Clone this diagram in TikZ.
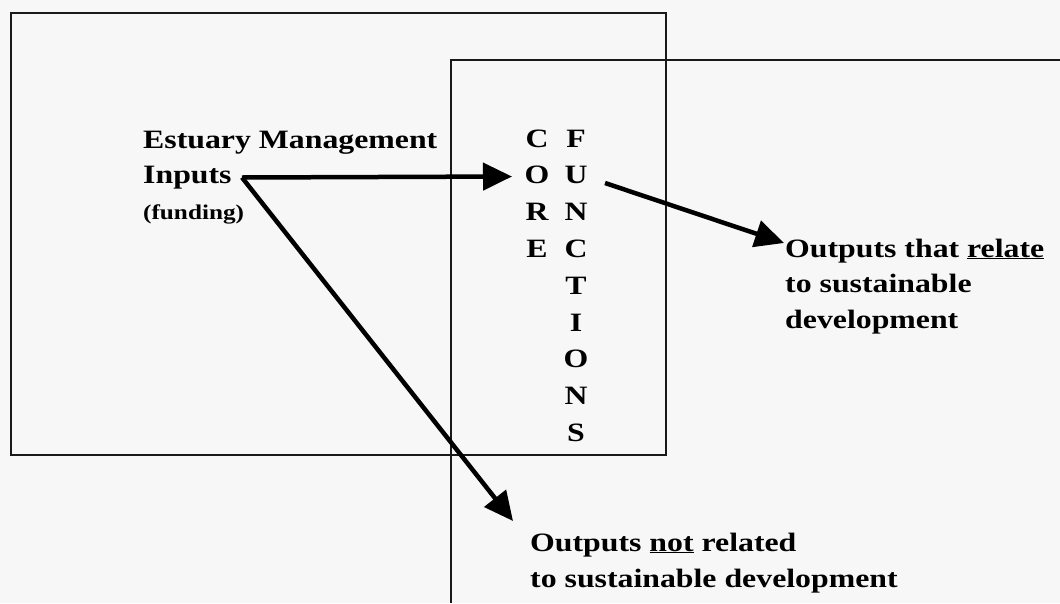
\documentclass[tikz,border=0pt]{standalone}
\usepackage{fontspec}
\setmainfont{Liberation Serif}[FakeStretch=1.2]
\usetikzlibrary{arrows.meta}
\tikzset{
  boxline/.style={draw=black!90, line width=1.3pt},
  bigarrow/.style={line width=4.5pt, -{Triangle[length=29pt,width=27pt]}},
  txt/.style={inner sep=0pt, anchor=base west, font=\bfseries\fontsize{26.5}{36}\selectfont},
  small/.style={inner sep=0pt, anchor=base west, font=\bfseries\fontsize{21}{26}\selectfont},
  letter/.style={inner sep=0pt, anchor=base, font=\bfseries\fontsize{26.5}{36}\selectfont}
}
\begin{document}
\begin{tikzpicture}[x=1pt,y=-1pt]
\fill[black!3] (0,0) rectangle (1060,603);
\useasboundingbox (0,0) rectangle (1060,603);
% boxes
\draw[boxline] (11,13) rectangle (666,455);
\draw[boxline] (1060,60) -- (451,60) -- (451,603);
% left text
\node[txt] (em) at (143,148) {Estuary Management};
\node[txt] (inp) at (143,183) {Inputs};
\node[small] (fund) at (143,219) {(funding)};
% CORE / FUNCTIONS
\foreach \l [count=\i] in {C,O,R,E}
  \node[letter] (c\i) at (537,{147+36.8*(\i-1)}) {\l};
\foreach \l [count=\i] in {F,U,N,C,T,I,O,N,S}
  \node[letter] (f\i) at (576,{147+36.8*(\i-1)}) {\l};
% outputs
\node[txt] (r1) at (785,257) {Outputs that \underline{relate}};
\node[txt] (r2) at (785,292) {to sustainable};
\node[txt] (r3) at (785,328) {development};
\node[txt] (n1) at (530,551) {Outputs \underline{not} related};
\node[txt] (n2) at (530,587) {to sustainable development};
% connector points
\coordinate (s) at (242,177.5);
\coordinate (t1) at (512,176.5);
\coordinate (t2) at (513,521);
\coordinate (s3) at (605,183);
\coordinate (t3) at (784,243);
\draw[bigarrow] (s) -- (t1);
\draw[bigarrow] (s) -- (t2);
\draw[bigarrow] (s3) -- (t3);
\end{tikzpicture}
\end{document}
